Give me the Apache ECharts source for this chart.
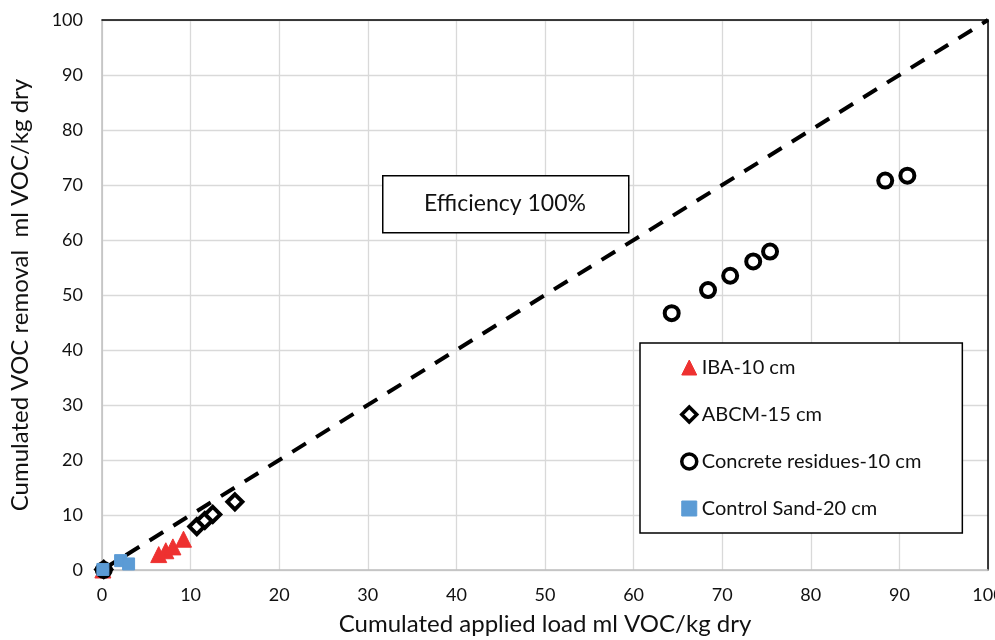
<!DOCTYPE html>
<html><head><meta charset="utf-8">
<script src="https://cdn.jsdelivr.net/npm/echarts@6/dist/echarts.min.js"></script>
<style>html,body{margin:0;padding:0;background:#fff}#c{width:995px;height:640px}</style>
</head><body><div id="c"></div>
<script>
const xTicks = [0,10,20,30,40,50,60,70,80,90,100];
const yTicks = [0,10,20,30,40,50,60,70,80,90,100];
const ibaData = [[0.1,0],[6.4,2.8],[7.2,3.5],[8.0,4.2],[9.2,5.6]];
const abcmData = [[0.2,0.1],[10.7,7.9],[11.6,9.0],[12.5,10.1],[15.0,12.4]];
const concreteData = [[0.2,0],[64.3,46.7],[68.4,50.9],[70.9,53.5],[73.5,56.1],[75.4,57.9],[88.4,70.8],[90.9,71.7]];
const sandData = [[0.1,0.1],[2.1,1.7],[3.0,1.1]];
const efficiencyLine = [[0,0],[100,100]];
const seriesNames = ['IBA-10 cm','ABCM-15 cm','Concrete residues-10 cm','Control Sand-20 cm'];
const xTitle = 'Cumulated applied load ml VOC/kg dry';
const yTitle = 'Cumulated VOC removal  ml VOC/kg dry';
const noteText = 'Efficiency 100%';

const FONT = 'Lato';
const chart = echarts.init(document.getElementById('c'), null, {renderer:'canvas'});
const axisCommon = {
  type:'value', min:0, max:100, interval:10,
  axisTick:{show:false},
  axisLabel:{fontFamily:FONT, fontSize:18, color:'#111'},
  nameTextStyle:{fontFamily:FONT, fontSize:24, color:'#111'},
  splitLine:{show:true, lineStyle:{color:'#d9d9d9', width:1.3}},
  axisLine:{show:true, onZero:false, lineStyle:{color:'#bfbfbf', width:1.5}}
};
const borderAxis = {
  type:'value', min:0, max:100, interval:10,
  axisTick:{show:false}, axisLabel:{show:false}, splitLine:{show:false},
  axisLine:{show:true, onZero:false, lineStyle:{color:'#000', width:1.5}}
};
const triStyle = {color:'#ee3130', borderColor:'#ee3130', borderWidth:1, opacity:1};
const diaStyle = {color:'#fff', borderColor:'#000', borderWidth:4, opacity:1};
const cirStyle = {color:'#fff', borderColor:'#000', borderWidth:4, opacity:1};
const sqStyle = {color:'#5b9bd5', borderColor:'#5b9bd5', borderWidth:1, opacity:1};
chart.setOption({
  animation:false,
  backgroundColor:'#fff',
  grid:{left:102, right:7, top:20, bottom:70, containLabel:false, outerBoundsMode:'none'},
  xAxis:[
    Object.assign({}, axisCommon, {position:'bottom', name:xTitle, nameLocation:'middle', nameGap:42,
      axisLabel:Object.assign({}, axisCommon.axisLabel, {margin:16, formatter:v=>xTicks.includes(v)?String(v):''})}),
    Object.assign({}, borderAxis, {position:'top'})
  ],
  yAxis:[
    Object.assign({}, axisCommon, {position:'left', name:yTitle, nameLocation:'middle', nameGap:70,
      axisLabel:Object.assign({}, axisCommon.axisLabel, {margin:19, formatter:v=>yTicks.includes(v)?String(v):''})}),
    Object.assign({}, borderAxis, {position:'right'})
  ],
  legend:{
    orient:'vertical', left:640, top:343,
    data:[
      {name:seriesNames[0], itemStyle:triStyle},
      {name:seriesNames[1], itemStyle:Object.assign({}, diaStyle, {borderWidth:3.5})},
      {name:seriesNames[2], itemStyle:Object.assign({}, cirStyle, {borderWidth:3.5})},
      {name:seriesNames[3], itemStyle:sqStyle}
    ],
    backgroundColor:'#fff', borderColor:'#000', borderWidth:1.5,
    padding:[13,41,13,40], itemGap:24, itemWidth:15, itemHeight:15,
    textStyle:{fontFamily:FONT, fontSize:20, color:'#111', lineHeight:23}
  },
  graphic:[
    {type:'rect', left:382, top:175, z:100,
     shape:{width:246, height:57},
     style:{fill:'#fff', stroke:'#000', lineWidth:1.5}},
    {type:'text', x:505, y:203.5, z:101,
     style:{text:noteText, fontFamily:FONT, fontSize:23, fill:'#111', align:'center', verticalAlign:'middle'}}
  ],
  series:[
    {type:'line', name:'efficiency', data:efficiencyLine, symbol:'none', silent:true, z:1,
     lineStyle:{color:'#000', width:4, type:[16,12]}},
    {type:'scatter', name:seriesNames[0], data:ibaData, symbol:'triangle', symbolSize:16, z:3, itemStyle:triStyle},
    {type:'scatter', name:seriesNames[1], data:abcmData, symbol:'diamond', symbolSize:15, z:3, itemStyle:diaStyle},
    {type:'scatter', name:seriesNames[2], data:concreteData, symbol:'circle', symbolSize:14, z:3, itemStyle:cirStyle},
    {type:'scatter', name:seriesNames[3], data:sandData, symbol:'rect', symbolSize:12, z:4, itemStyle:sqStyle}
  ]
});
</script></body></html>
